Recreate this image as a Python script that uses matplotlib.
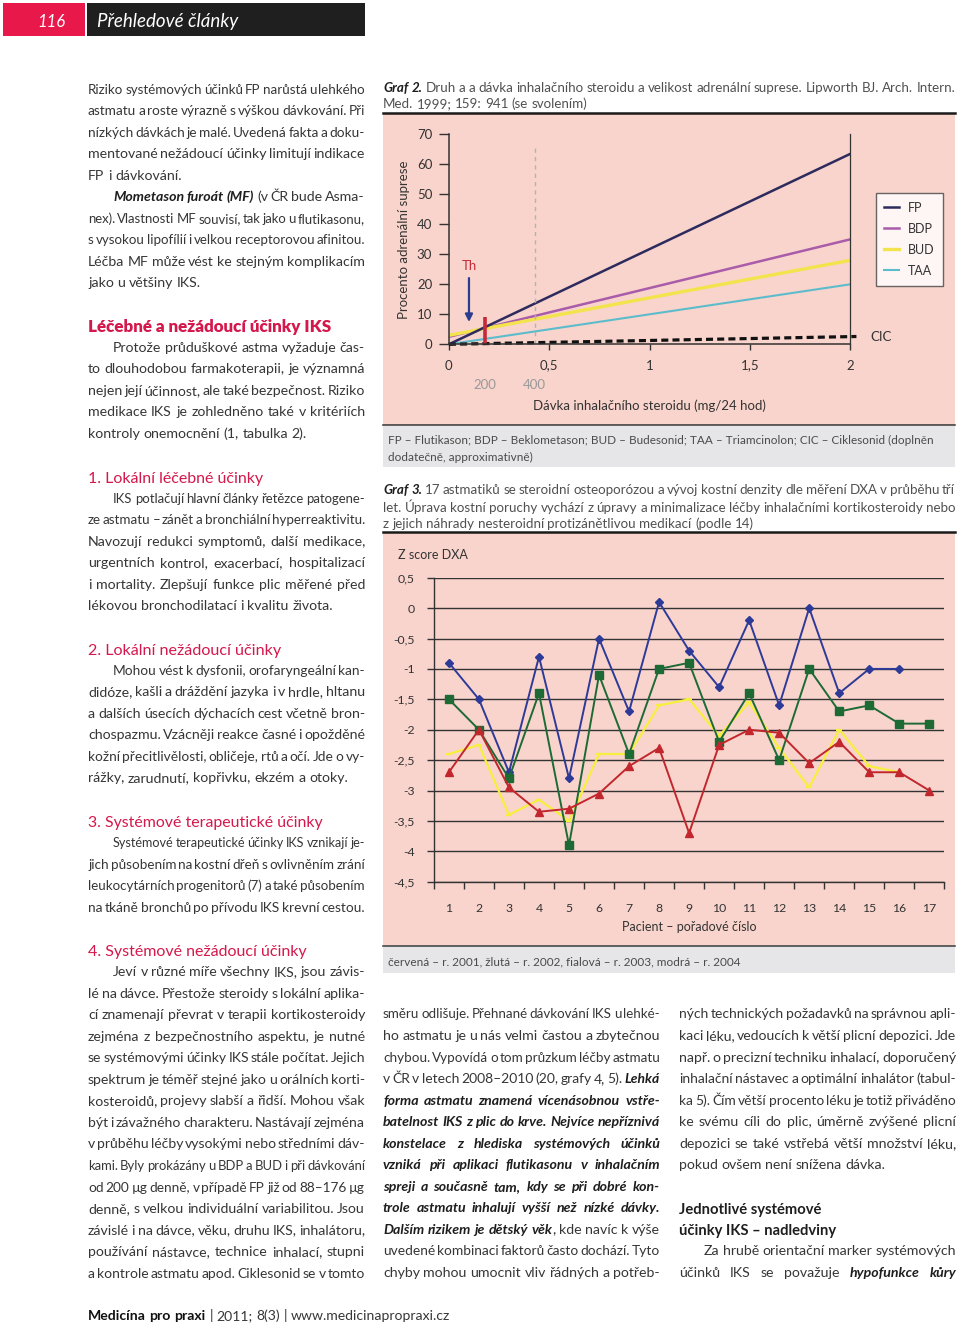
import matplotlib
matplotlib.use('Agg')
from matplotlib import pyplot as plt
from matplotlib.font_manager import FontProperties
from matplotlib.lines import Line2D
from matplotlib.patches import Rectangle
import numpy as np

W, H = 960, 1325
FAMILY = ['Lato', 'DejaVu Sans']
plt.rcParams['font.family'] = FAMILY

TEXT = '#363636'
STRONG = '#1e1e1e'
RED = '#d5184b'
PINK = '#f9d4cc'
GREYBOX = '#e6e6e8'
CAPTION = '#505050'

# ---- Graf 2: adrenal suppression vs. dose (mg/24 h) ----
dose = [0, 2]
fp = [0, 63.5]
bdp = [2.5, 35]
bud = [3, 28]
taa = [0, 20]
cic_dose = [0, 2.03]
cic = [0, 2.6]
th_dose = 0.1
dose_200 = 0.179
dose_400 = 0.428
graf2_xticks = [0, 0.5, 1, 1.5, 2]
graf2_xlabels = ['0', '0,5', '1', '1,5', '2']

# ---- Graf 3: Z score DXA per patient ----
patients = list(range(1, 18))
z_2004 = [-0.9, -1.5, -2.7, -0.8, -2.8, -0.5, -1.7, 0.1, -0.7, -1.3, -0.2, -1.6, 0.0, -1.4, -1.0, -1.0]
z_2003 = [-1.5, -2.0, -2.8, -1.4, -3.9, -1.1, -2.4, -1.0, -0.9, -2.2, -1.4, -2.5, -1.0, -1.7, -1.6, -1.9, -1.9]
z_2002 = [-2.4, -2.25, -3.4, -3.15, -3.5, -2.4, -2.4, -1.6, -1.5, -2.1, -1.55, -2.3, -2.95, -2.0, -2.6, -2.7]
z_2001 = [-2.7, -2.0, -2.95, -3.35, -3.3, -3.05, -2.6, -2.3, -3.7, -2.25, -2.0, -2.05, -2.55, -2.2, -2.7, -2.7, -3.0]
graf3_yticks = [0.5, 0, -0.5, -1, -1.5, -2, -2.5, -3, -3.5, -4, -4.5]

# ---- page text ----
# '>' = indented first line, '¶' = last line of paragraph, '*..*' = bold italic
col1 = [
    "Riziko systémových účinků FP narůstá u lehkého",
    "astmatu a roste výrazně s výškou dávkování. Při",
    "nízkých dávkách je malé. Uvedená fakta a doku-",
    "mentované nežádoucí účinky limitují indikace",
    "FP i dávkování.¶",
    ">*Mometason furoát (MF)* (v ČR bude Asma-",
    "nex). Vlastnosti MF souvisí, tak jako u flutikasonu,",
    "s vysokou lipofílií i velkou receptorovou afinitou.",
    "Léčba MF může vést ke stejným komplikacím",
    "jako u většiny IKS.¶",
    "",
    ("Léčebné a nežádoucí účinky IKS", 'B', 333),
    ">Protože průduškové astma vyžaduje čas-",
    "to dlouhodobou farmakoterapii, je významná",
    "nejen její účinnost, ale také bezpečnost. Riziko",
    "medikace IKS je zohledněno také v kritériích",
    "kontroly onemocnění (1, tabulka 2).¶",
    "",
    ("1. Lokální léčebné účinky", 'r', 264),
    ">IKS potlačují hlavní články řetězce patogene-",
    "ze astmatu – zánět a bronchiální hyperreaktivitu.",
    "Navozují redukci symptomů, další medikace,",
    "urgentních kontrol, exacerbací, hospitalizací",
    "i mortality. Zlepšují funkce plic měřené před",
    "lékovou bronchodilatací i kvalitu života.¶",
    "",
    ("2. Lokální nežádoucí účinky", 'r', 282),
    ">Mohou vést k dysfonii, orofaryngeální kan-",
    "didóze, kašli a dráždění jazyka i v hrdle, hltanu",
    "a dalších úsecích dýchacích cest včetně bron-",
    "chospazmu. Vzácněji reakce časné i opožděné",
    "kožní přecitlivělosti, obličeje, rtů a očí. Jde o vy-",
    "rážky, zarudnutí, kopřivku, ekzém a otoky.¶",
    "",
    ("3. Systémové terapeutické účinky", 'r', 322),
    ">Systémové terapeutické účinky IKS vznikají je-",
    "jich působením na kostní dřeň s ovlivněním zrání",
    "leukocytárních progenitorů (7) a také působením",
    "na tkáně bronchů po přívodu IKS krevní cestou.",
    "",
    ("4. Systémové nežádoucí účinky", 'r', 307),
    ">Jeví v různé míře všechny IKS, jsou závis-",
    "lé na dávce. Přestože steroidy s lokální aplika-",
    "cí znamenají převrat v terapii kortikosteroidy",
    "zejména z bezpečnostního aspektu, je nutné",
    "se systémovými účinky IKS stále počítat. Jejich",
    "spektrum je téměř stejné jako u orálních korti-",
    "kosteroidů, projevy slabší a řidší. Mohou však",
    "být i závažného charakteru. Nastávají zejména",
    "v průběhu léčby vysokými nebo středními dáv-",
    "kami. Byly prokázány u BDP a BUD i při dávkování",
    "od 200 µg denně, v případě FP již od 88–176 µg",
    "denně, s velkou individuální variabilitou. Jsou",
    "závislé i na dávce, věku, druhu IKS, inhalátoru,",
    "používání nástavce, technice inhalací, stupni",
    "a kontrole astmatu apod. Ciklesonid se v tomto",
]

col2 = [
    "směru odlišuje. Přehnané dávkování IKS u lehké-",
    "ho astmatu je u nás velmi častou a zbytečnou",
    "chybou. Vypovídá o tom průzkum léčby astmatu",
    "v ČR v letech 2008–2010 (20, grafy 4, 5). *Lehká*",
    "*forma astmatu znamená vícenásobnou vstře-*",
    "*batelnost IKS z plic do krve. Nejvíce nepříznivá*",
    "*konstelace z hlediska systémových účinků*",
    "*vzniká při aplikaci flutikasonu v inhalačním*",
    "*spreji a současně tam, kdy se při dobré kon-*",
    "*trole astmatu inhalují vyšší než nízké dávky.*",
    "*Dalším rizikem je dětský věk*, kde navíc k výše",
    "uvedené kombinaci faktorů často dochází. Tyto",
    "chyby mohou umocnit vliv řádných a potřeb-",
]

col3 = [
    "ných technických požadavků na správnou apli-",
    "kaci léku, vedoucích k větší plicní depozici. Jde",
    "např. o precizní techniku inhalací, doporučený",
    "inhalační nástavec a optimální inhalátor (tabul-",
    "ka 5). Čím větší procento léku je totiž přiváděno",
    "ke svému cíli do plic, úměrně zvýšené plicní",
    "depozici se také vstřebá větší množství léku,",
    "pokud ovšem není snížena dávka.¶",
    "",
    ("Jednotlivé systémové", 'bk', 822),
    ("účinky IKS – nadledviny", 'bk', 836),
    ">Za hrubě orientační marker systémových",
    "účinků IKS se považuje *hypofunkce kůry*",
]

graf2_caption = [
    "*Graf 2.* Druh a a dávka inhalačního steroidu a velikost adrenální suprese. Lipworth BJ. Arch. Intern.",
    "Med. 1999; 159: 941 (se svolením)¶",
]
graf2_note = ["FP – Flutikason; BDP – Beklometason; BUD – Budesonid; TAA – Triamcinolon; CIC – Ciklesonid (doplněn",
              "dodatečně, approximativně)"]
graf3_caption = [
    "*Graf 3.* 17 astmatiků se steroidní osteoporózou a vývoj kostní denzity dle měření DXA v průběhu tří",
    "let. Úprava kostní poruchy vychází z úpravy a minimalizace léčby inhalačními kortikosteroidy nebo",
    "z jejich náhrady nesteroidní protizánětlivou medikací (podle 14)¶",
]
graf3_note = "červená – r. 2001, žlutá – r. 2002, fialová – r. 2003, modrá – r. 2004"

fig = plt.figure(figsize=(W / 100, H / 100), dpi=100)
page = fig.add_axes([0, 0, 1, 1])
page.set_xlim(0, W)
page.set_ylim(H, 0)
page.axis('off')
renderer = fig.canvas.get_renderer()


def prop(style, size):
    weight = 'heavy' if 'B' in style else ('bold' if 'b' in style else 'normal')
    return FontProperties(family=FAMILY, size=size, weight=weight,
                          style='italic' if 'i' in style else 'normal')


def width(s, p):
    return renderer.get_text_width_height_descent(s, p, ismath=False)[0]


def parse(line, strong='bi'):
    words = [[]]
    for i, part in enumerate(line.split('*')):
        st = strong if i % 2 else 'r'
        for j, piece in enumerate(part.split(' ')):
            if j > 0:
                words.append([])
            if piece:
                words[-1].append((piece, st))
    return [w for w in words if w]


def needed_size(line, avail, size, strong='bi', min_gap=0.65):
    words = parse(line, strong)
    ps = {st: prop(st, size) for st in ('r', strong)}
    total = sum(width(t, ps[st]) for w in words for t, st in w)
    sp = width('x x', ps['r']) - width('xx', ps['r'])
    total += (len(words) - 1) * min_gap * sp
    return size * min(1.0, avail / total)


def draw_line(line, x0, x1, y, size, color, justify, strong='bi', strong_color=STRONG):
    words = parse(line, strong)
    ps = {st: prop(st, size) for st in ('r', strong)}
    ws = [sum(width(t, ps[st]) for t, st in w) for w in words]
    sp = width('x x', ps['r']) - width('xx', ps['r'])
    if justify and len(words) > 1:
        gap = (x1 - x0 - sum(ws)) / (len(words) - 1)
    else:
        gap = sp
    x = x0
    for w, wd in zip(words, ws):
        xx = x
        for t, st in w:
            page.text(xx, y, t, fontproperties=ps[st], va='baseline', ha='left',
                      color=strong_color if st != 'r' else color)
            xx += width(t, ps[st])
        x += wd + gap


def draw_par(lines, x0, x1, baselines, size, color, indent=25, strong='bi', strong_color=STRONG):
    for line, y in zip(lines, baselines):
        xs = x0 + (indent if line.startswith('>') else 0)
        justify = not line.endswith('¶')
        text = line.strip('>¶')
        sz = needed_size(text, x1 - xs, size, strong)
        draw_line(text, xs, x1, y, sz, color, justify, strong, strong_color)


def fit_text(text, x0, x1, y, style, color):
    sz = 10 * (x1 - x0) / width(text, prop(style, 10))
    page.text(x0, y, text, fontproperties=prop(style, sz), color=color, va='baseline', ha='left')


def draw_column(entries, x0, x1, first, pitch, size):
    for k, e in enumerate(entries):
        base = first + k * pitch
        if isinstance(e, tuple):
            text, style, right = e
            col = STRONG if style == 'bk' else RED
            fit_text(text, x0, right, base + 6, style.replace('k', ''), col)
        elif e:
            draw_par([e], x0, x1, [base + 4.5], size, TEXT)


# header
page.add_patch(Rectangle((3, 3), 82, 33, color='#e8184b', lw=0))
page.add_patch(Rectangle((87, 3), 278, 33, color='#1f1f1f', lw=0))
fit_text('116', 37, 65, 27, 'i', 'white')
fit_text('Přehledové články', 97, 238, 27, 'i', 'white')

# body columns
draw_column(col1, 88, 365, 89, 21.53, 10.2)
draw_column(col2, 383, 660, 1014, 21.53, 10.2)
draw_column(col3, 679, 956, 1014, 21.53, 10.2)

# footer
foot = "*Medicína pro praxi* | 2011; 8(3) | www.medicinapropraxi.cz"
fsz = 9.4 * 359 / (width('Medicína pro praxi', prop('b', 9.4)) +
                   width(' | 2011; 8(3) | www.medicinapropraxi.cz', prop('r', 9.4)))
draw_line(foot, 88, 447, 1320, fsz, TEXT, False, strong='b', strong_color='#111111')

# graph frames
page.add_patch(Rectangle((383, 114), 572, 311, color=PINK, lw=0))
page.plot([383, 955], [113, 113], color='#1a1a1a', lw=1.8)
page.plot([383, 955], [425, 425], color='#333333', lw=1.1)
page.add_patch(Rectangle((383, 426), 572, 41, color=GREYBOX, lw=0))
page.add_patch(Rectangle((383, 533), 572, 412, color=PINK, lw=0))
page.plot([383, 955], [532, 532], color='#1a1a1a', lw=1.8)
page.plot([383, 955], [945.5, 945.5], color='#333333', lw=1.1)
page.add_patch(Rectangle((383, 946.5), 572, 26, color=GREYBOX, lw=0))

draw_par(graf2_caption, 383, 955, [91.5, 108.5], 9.6, CAPTION, indent=0)
draw_par(graf3_caption, 383, 955, [494.5, 511.5, 528], 9.6, CAPTION, indent=0)
nsz = 8.6 * (931 - 388) / width(graf2_note[0], prop('r', 8.6))
page.text(388, 444, graf2_note[0], fontproperties=prop('r', nsz), color='#4a4a4a', va='baseline')
page.text(388, 461, graf2_note[1], fontproperties=prop('r', nsz), color='#4a4a4a', va='baseline')
page.text(388, 965, graf3_note, fontproperties=prop('r', nsz), color='#4a4a4a', va='baseline')


def box(x0, y0, x1, y1):
    return [x0 / W, 1 - y1 / H, (x1 - x0) / W, (y1 - y0) / H]


# ---- Graf 2 ----
ax2 = fig.add_axes(box(448.9, 134.3, 850.4, 344.3))
ax2.patch.set_alpha(0)
ax2.set_xlim(0, 2)
ax2.set_ylim(0, 70)
ax2.spines['top'].set_visible(False)
for s in ['left', 'bottom', 'right']:
    ax2.spines[s].set_color('#333333')
    ax2.spines[s].set_linewidth(1.1)
ax2.spines['right'].set_linewidth(0.9)
ax2.set_xticks(graf2_xticks)
ax2.set_xticklabels(graf2_xlabels)
ax2.set_yticks(range(0, 71, 10))
ax2.tick_params(axis='y', length=7, width=1, color='#333333', labelsize=9.5, labelcolor='#333333', pad=5)
ax2.tick_params(axis='x', length=4, width=1, color='#333333', labelsize=9.5, labelcolor='#333333', pad=7)

ax2.plot(dose, taa, color='#5dbccb', lw=1.5, solid_capstyle='butt')
ax2.plot(dose, bdp, color='#a95ca9', lw=1.8, solid_capstyle='butt')
ax2.plot(dose, bud, color='#f3e34c', lw=2.4, solid_capstyle='butt')
ax2.plot(dose, fp, color='#2d2b5e', lw=1.8, solid_capstyle='butt')
ax2.plot(cic_dose, cic, color='#111111', lw=2.3, ls=(0, (2.2, 1.3)), clip_on=False)
ax2.plot([dose_400, dose_400], [0, 66], color='#b3b3b3', lw=1, ls=(0, (3, 3)))
ax2.plot([dose_200, dose_200], [0, 9], color='#c42a3a', lw=2.6, solid_capstyle='butt')
ax2.annotate('', xy=(th_dose, 6.5), xytext=(th_dose, 23),
             arrowprops=dict(arrowstyle='-|>', color='#2b3d8f', lw=1.6, mutation_scale=11))
ax2.text(th_dose, 26.2, 'Th', color='#c42a3a', fontsize=9.5, ha='center', va='center')
ax2.text(2.1, cic[1], 'CIC', color='#333333', fontsize=9.5, ha='left', va='center', clip_on=False)
xt = ax2.get_xaxis_transform()
ax2.text(dose_200, -0.195, '200', transform=xt, color='#999999', fontsize=9.5, ha='center', va='center')
ax2.text(dose_400, -0.195, '400', transform=xt, color='#999999', fontsize=9.5, ha='center', va='center')
page.text(649.7, 405.6, 'Dávka inhalačního steroidu (mg/24 hod)', color='#333333', fontsize=9.5,
          ha='center', va='center')
page.text(404, 240, 'Procento adrenální suprese', color='#333333', fontsize=9.5,
          ha='center', va='center', rotation=90)

handles = [Line2D([], [], color='#2d2b5e', lw=1.8), Line2D([], [], color='#a95ca9', lw=1.8),
           Line2D([], [], color='#f3e34c', lw=2.4), Line2D([], [], color='#5dbccb', lw=1.5)]
leg = fig.legend(handles, ['FP', 'BDP', 'BUD', 'TAA'], loc='upper left',
                 bbox_to_anchor=(875.6 / W, 1 - 193 / H), bbox_transform=fig.transFigure,
                 fontsize=9, frameon=True, fancybox=False, borderaxespad=0, borderpad=0.7,
                 handlelength=1.2, handletextpad=0.65, labelspacing=0.72, labelcolor='#333333')
leg.get_frame().set_edgecolor('#444444')
leg.get_frame().set_linewidth(1)
leg.get_frame().set_facecolor('white')

# ---- Graf 3 ----
ax3 = fig.add_axes(box(433.9, 577.7, 944.3, 881.7))
ax3.patch.set_alpha(0)
ax3.set_xlim(0.5, 17.5)
ax3.set_ylim(-4.5, 0.5)
ax3.spines['top'].set_visible(False)
ax3.spines['right'].set_visible(False)
for s in ['left', 'bottom']:
    ax3.spines[s].set_color('#333333')
    ax3.spines[s].set_linewidth(1)
ax3.set_yticks(graf3_yticks)
ax3.set_yticklabels([f'{v:g}'.replace('.', ',') for v in graf3_yticks])
ax3.yaxis.grid(True, color='#333333', lw=1)
ax3.set_axisbelow(True)
ax3.set_xticks(patients)
ax3.set_xticks(np.arange(0.5, 17.6, 1), minor=True)
ax3.tick_params(axis='x', which='major', length=0, labelsize=8.8, labelcolor='#333333', pad=15)
ax3.tick_params(axis='x', which='minor', length=5, width=1, color='#333333')
ax3.tick_params(axis='y', length=5, width=1, color='#333333', labelsize=8.8, labelcolor='#333333', pad=9)

ax3.plot(patients[:len(z_2002)], z_2002, color='#f6ef3e', lw=1.6, marker='_', ms=5, mew=1.6, zorder=3)
ax3.plot(patients[:len(z_2004)], z_2004, color='#2e3a97', lw=1.4, marker='D', ms=4.2, zorder=4)
ax3.plot(patients, z_2003, color='#1d6a35', lw=1.4, marker='s', ms=5.8, zorder=5)
ax3.plot(patients, z_2001, color='#c1272d', lw=1.4, marker='^', ms=5.5, zorder=6)
page.text(397.8, 555, 'Z score DXA', color='#333333', fontsize=9, ha='left', va='center')
page.text(689, 926.7, 'Pacient – pořadové číslo', color='#333333', fontsize=9, ha='center', va='center')

fig.savefig('out.png', dpi=100)
